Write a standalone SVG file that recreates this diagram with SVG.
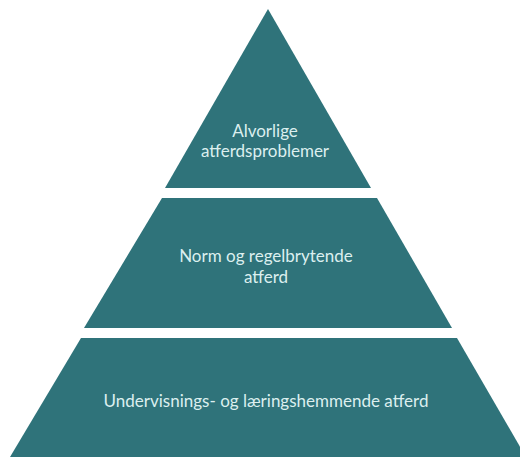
<svg xmlns="http://www.w3.org/2000/svg" width="520" height="457" viewBox="0 0 520 457">
<style>
.tier{fill:#2f737a;}
.lbl{fill:#dcefef;font-family:Lato,"Open Sans",sans-serif;font-size:17px;text-anchor:middle;}
</style>
<rect width="520" height="457" fill="#ffffff"/>
<g id="tier-top">
<polygon class="tier" points="268,9 371,188 165,188"/>
<text class="lbl" x="265" y="137">Alvorlige</text>
<text class="lbl" x="265" y="157">atferdsproblemer</text>
</g>
<g id="tier-middle">
<polygon class="tier" points="162,198 377,198 452,328 84,328"/>
<text class="lbl" x="266" y="262">Norm og regelbrytende</text>
<text class="lbl" x="266" y="283">atferd</text>
</g>
<g id="tier-bottom">
<polygon class="tier" points="81,338 457,338 526,457 10,457"/>
<text class="lbl" x="266" y="407">Undervisnings- og læringshemmende atferd</text>
</g>
<g id="connectors"></g>
</svg>
